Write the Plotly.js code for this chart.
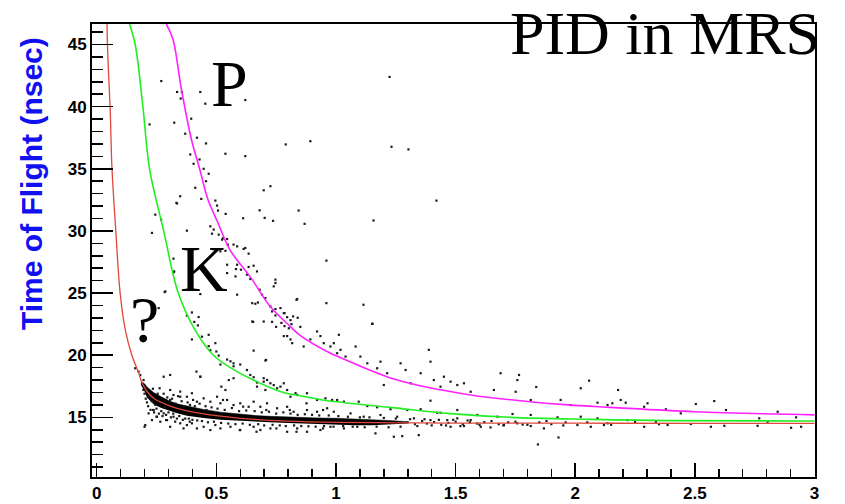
<!DOCTYPE html>
<html><head><meta charset="utf-8">
<script src="https://cdn.plot.ly/plotly-3.0.1.min.js"></script>
<style>html,body{margin:0;padding:0;background:#fff}#chart{width:845px;height:504px}</style>
</head><body><div id="chart"></div>
<script>
// ---- tick labels ----
const xTickVals = [0, 0.5, 1, 1.5, 2, 2.5, 3];
const xTickText = ['0', '0.5', '1', '1.5', '2', '2.5', '3'];
const yTickVals = [15, 20, 25, 30, 35, 40, 45];
const yTickText = ['15', '20', '25', '30', '35', '40', '45'];

// ---- reference curves (momentum, time of flight) ----
const pionX = [0.043, 0.045, 0.05, 0.056, 0.064, 0.08, 0.098, 0.12, 0.147, 0.175, 0.189, 0.21, 0.238, 0.307, 0.377, 0.517, 0.656, 0.796, 1.005, 1.25, 1.5, 2.0, 2.5, 3.0];
const pionT = [46.65, 45, 42.5, 40, 35, 30, 25, 22, 20, 18.6, 17.8, 17.1, 16.53, 15.91, 15.53, 15.1, 14.84, 14.7, 14.6, 14.56, 14.54, 14.53, 14.52, 14.52];
const kaonX = [0.137, 0.161, 0.193, 0.221, 0.28, 0.341, 0.412, 0.488, 0.559, 0.655, 0.78, 0.85, 0.977, 1.228, 1.48, 1.73, 2.065, 2.4, 3.0];
const kaonT = [46.65, 45, 40, 35, 30, 25, 22, 20, 19, 18, 17, 16.74, 16.31, 15.8, 15.3, 15.0, 14.84, 14.74, 14.7];
const protonX = [0.291, 0.319, 0.354, 0.396, 0.431, 0.465, 0.507, 0.556, 0.642, 0.726, 0.81, 0.85, 0.977, 1.02, 1.256, 1.563, 1.81, 1.97, 2.15, 2.5, 3.0];
const protonT = [46.65, 45.4, 41.4, 37.36, 34.94, 32.52, 30.64, 28.5, 26.3, 23.9, 22.3, 21.6, 20.16, 19.8, 18.0, 16.8, 16.26, 16.0, 15.8, 15.45, 15.2];

// ---- dense pion band (upper / lower edge) ----
const bandX  = [0.185, 0.2, 0.21, 0.238, 0.27, 0.307, 0.34, 0.377, 0.41, 0.447, 0.517, 0.587, 0.656, 0.726, 0.80, 0.865, 0.93, 1.005, 1.08, 1.15, 1.22, 1.30];
const bandHi = [17.9, 17.7, 17.45, 17.0, 16.65, 16.3, 16.07, 15.9, 15.75, 15.64, 15.42, 15.28, 15.16, 15.08, 15.02, 14.98, 14.95, 14.92, 14.88, 14.82, 14.75, 14.65];
const bandLo = [17.6, 17.1, 16.6, 16.05, 15.75, 15.5, 15.3, 15.12, 15.02, 14.94, 14.8, 14.72, 14.66, 14.6, 14.54, 14.49, 14.46, 14.42, 14.36, 14.36, 14.42, 14.5];

// ---- individual events [p, tof] ----
const protonDots = [[0.270,42.06],[0.336,41.18],[0.356,41.18],[0.351,40.65],[0.433,41.18],[0.454,40.24],[0.621,40.53],[0.324,38.71],[0.395,39.03],[0.370,37.82],[0.419,37.50],[0.457,37.04],[0.391,36.15],[0.538,36.21],[0.621,36.02],[0.405,35.40],[0.430,35.75],[0.447,35.00],[0.468,34.60],[0.457,34.00],[0.412,33.47],[0.437,32.58],[0.496,32.44],[0.349,32.79],[0.333,32.26],[0.698,33.27],[0.726,33.60],[0.681,31.66],[0.702,31.05],[0.737,30.81],[0.844,31.64],[0.503,32.04],[0.507,31.64],[0.539,31.37],[0.612,31.02],[0.377,30.02],[0.475,30.37],[0.489,30.11],[0.510,29.70],[0.524,29.30],[0.545,29.35],[0.587,28.76],[0.621,28.63],[0.869,30.57],[0.482,29.78],[0.528,29.41],[0.548,28.9],[0.572,28.9],[0.614,28.55],[0.635,28.17],[0.517,28.36],[0.538,28.4],[0.960,27.61],[0.545,27.28],[0.587,27.28],[0.582,26.93],[0.603,26.88],[0.635,27.10],[0.656,27.20],[0.670,26.74],[0.545,26.61],[0.58,26.34],[0.628,26.48],[0.642,26.13],[0.747,26.08],[0.740,25.54],[0.433,24.92],[0.587,24.87],[0.681,25.27],[0.691,24.87],[0.705,24.60],[0.838,24.52],[0.96,24.19],[0.663,24.14],[0.674,24.24],[0.726,23.92],[0.747,23.71],[0.768,23.79],[0.733,23.52],[0.747,23.2],[0.785,23.38],[0.796,23.06],[0.821,23.12],[0.840,23.01],[0.772,22.60],[0.733,22.68],[0.654,22.68],[0.750,22.28],[0.785,22.34],[0.814,22.50],[0.851,22.28],[0.747,25.81],[0.835,24.46],[0.796,21.54],[0.81,21.27],[0.782,23.39],[0.803,22.17],[0.893,37.22],[0.790,36.96],[0.65,24.19],[0.698,22.71],[0.81,22.82],[0.782,21.54],[0.817,20.97],[0.865,20.70],[0.893,21.27],[0.935,21.54],[0.921,21.91],[0.949,20.97],[0.977,20.7],[1.005,20.16],[1.012,21.64],[0.991,20.97],[1.019,20.43],[1.04,19.89],[1.082,20.7],[1.102,19.89],[1.131,19.35],[1.151,22.52],[1.172,18.95],[1.186,19.48],[1.214,18.55],[1.2,17.6],[1.27,19.35],[1.291,18.81],[1.312,17.74],[1.354,18.55],[1.388,20.43],[1.395,19.48],[1.409,18.0],[1.437,17.47],[1.451,18.27],[1.479,17.87],[1.507,17.6],[1.535,17.74],[1.563,17.06],[1.66,17.2],[1.688,18.55],[1.765,18.41],[1.751,17.06],[1.758,18.0],[1.814,16.4],[1.837,17.44],[1.939,16.4],[1.981,15.99],[2.023,17.34],[2.058,17.95],[2.093,16.18],[2.135,15.99],[2.179,17.2],[2.155,16.13],[2.19,16.4],[2.211,16.18],[2.288,15.85],[2.302,16.13],[2.379,15.65],[2.504,16.07],[2.581,16.31],[2.63,15.59],[2.846,15.45],[2.923,15.0],[2.441,15.32]];
const strayDots = [[1.224,42.39],[1.232,36.77],[1.303,36.56],[1.42,32.44],[1.157,30.84],[1.115,24.06],[1.153,22.53],[0.221,38.57],[0.245,31.31],[0.269,30.91],[0.231,29.84],[0.336,32.21],[0.321,27.77],[0.324,26.74],[0.287,25.13],[0.259,23.79],[0.398,23.44],[0.426,23.07],[0.377,23.19],[0.408,22.68],[0.284,25.08],[0.321,26.67]];
const kaonDots = [[0.398,21.27],[0.423,22.40],[0.44,21.49],[0.468,20.73],[0.475,20.4],[0.51,19.97],[0.517,19.25],[0.545,19.65],[0.559,19.51],[0.572,19.11],[0.60,19.25],[0.65,22.71],[0.656,18.23],[0.67,17.80],[0.698,17.87],[0.712,18.01],[0.74,17.60],[0.708,19.62],[0.433,18.27],[0.572,18.15],[0.768,17.47],[0.796,17.2],[0.831,16.94],[0.468,21.64],[0.496,20.97],[0.50,20.3],[0.572,19.35],[0.628,18.81],[0.642,18.41],[0.67,17.47],[0.698,18.15],[0.726,17.74],[0.754,17.34],[0.81,16.66],[0.838,16.8],[0.879,16.94],[0.921,16.4],[0.956,16.53],[0.984,16.4],[0.705,19.57],[0.656,20.37],[0.782,17.74],[0.538,17.2],[0.705,17.2],[1.005,16.4],[1.033,16.26],[1.095,16.26],[1.131,15.91],[1.172,15.81],[1.228,15.65],[1.298,15.59],[1.354,15.65],[1.395,16.34],[1.423,15.37],[1.437,15.37],[1.507,15.59],[1.591,15.19],[1.675,15.05],[1.738,15.27],[1.814,15.19],[1.926,15.0],[2.023,15.05],[2.093,14.92],[2.769,14.92],[2.218,14.78]];
const pionDots = [[0.203,14.38],[0.231,14.78],[0.217,15.32],[0.238,15.59],[0.252,15.05],[0.266,14.65],[0.28,15.32],[0.294,14.78],[0.307,14.24],[0.321,15.05],[0.328,14.65],[0.349,14.52],[0.363,14.11],[0.377,14.38],[0.398,14.52],[0.419,14.11],[0.447,14.24],[0.475,13.98],[0.496,14.38],[0.517,14.11],[0.559,14.24],[0.600,13.98],[0.656,14.24],[0.684,13.98],[0.726,14.11],[0.796,13.84],[0.838,14.11],[0.879,13.84],[0.935,13.98],[0.977,14.24],[0.307,17.2],[0.321,16.8],[0.349,17.07],[0.377,16.66],[0.398,16.94],[0.419,16.26],[0.447,16.53],[0.475,16.26],[0.503,16.66],[0.517,16.13],[0.545,16.4],[0.572,15.99],[0.600,16.13],[0.635,15.85],[0.656,16.26],[0.684,15.85],[0.712,16.13],[0.754,15.73],[0.796,15.85],[0.823,15.45],[0.879,15.59],[0.921,15.45],[0.963,15.73],[0.991,15.45],[0.28,18.27],[0.433,18.27],[0.552,18.0],[0.307,18.41],[0.161,18.95],[0.175,18.68],[0.182,18.41],[0.196,18.0],[0.2,14.24],[0.236,15.59],[0.25,15.05],[0.307,16.4],[0.349,16.66],[0.29,14.78],[0.389,14.65],[0.403,16.4],[0.459,15.59],[0.528,16.4],[0.612,15.86],[0.709,15.59],[0.807,15.59],[0.877,16.13],[0.946,15.59],[0.751,14.11],[0.668,13.84],[0.598,13.98],[0.835,13.84],[0.946,14.11],[0.417,18.68],[0.263,17.34],[0.521,17.47],[1.033,14.11],[1.089,14.24],[1.165,13.71],[1.242,13.44],[1.277,13.49],[1.346,13.57],[1.479,14.24],[1.535,14.3],[1.605,14.24],[1.646,14.19],[1.702,14.38],[1.758,14.52],[1.814,14.3],[1.844,12.82],[1.869,14.11],[1.93,13.38],[2.009,14.38],[2.065,14.24],[2.12,14.38],[1.061,15.32],[1.116,15.05],[1.186,15.19],[1.256,15.05],[1.326,14.92],[1.395,14.78],[1.465,14.78],[1.507,14.92],[1.563,14.78],[2.135,14.52],[2.288,14.24],[2.337,14.65],[2.386,14.38],[2.483,14.46],[2.567,14.24],[2.623,14.32],[2.762,14.32],[2.804,14.65],[2.902,14.16],[2.944,14.24],[1.3,14.6],[1.33,14.45],[1.36,14.7],[1.38,14.5],[1.41,14.62],[1.44,14.4],[1.47,14.55],[1.5,14.65],[1.53,14.45],[1.56,14.6],[1.59,14.5],[1.62,14.62],[1.68,14.45],[1.72,14.6],[1.78,14.42],[1.85,14.6],[1.9,14.45],[1.96,14.6]];
const bandEdgeDots = [[0.195,17.2],[0.2,16.9],[0.205,16.5],[0.21,16.2],[0.215,15.9],[0.22,16.6],[0.225,15.6],[0.23,16.3],[0.235,17.3],[0.24,15.4],[0.245,16.0],[0.25,15.7],[0.255,16.9],[0.26,15.3],[0.265,16.2],[0.27,15.5],[0.275,15.1],[0.28,16.9],[0.285,15.8],[0.29,15.2],[0.295,16.6],[0.3,15.4],[0.31,15.0],[0.315,16.5],[0.32,15.3],[0.33,16.1],[0.335,14.9],[0.34,16.7],[0.345,15.1],[0.355,16.3],[0.36,14.8],[0.365,15.9],[0.37,14.9],[0.38,16.2],[0.385,14.9],[0.39,16.0],[0.4,14.8],[0.41,15.9],[0.42,14.75],[0.43,16.1],[0.44,14.7],[0.455,15.9],[0.465,14.6],[0.48,15.8],[0.49,14.65],[0.505,15.7],[0.52,14.55],[0.535,15.6],[0.55,14.5],[0.565,15.75],[0.58,14.45],[0.595,15.5],[0.61,14.5],[0.625,15.55],[0.64,14.4],[0.66,15.5],[0.675,14.45],[0.69,15.4],[0.7,14.35],[0.72,15.45],[0.735,14.4],[0.75,15.3],[0.765,14.35],[0.78,15.4],[0.79,14.3],[0.81,15.3],[0.825,14.35],[0.84,15.2],[0.855,14.3],[0.87,15.25],[0.885,14.28],[0.9,15.2],[0.915,14.25],[0.93,15.15],[0.95,14.3],[0.97,15.15],[0.99,14.25],[1.01,15.1],[1.03,14.3],[1.05,15.05],[1.07,14.25],[1.1,15.0],[1.12,14.2],[1.14,15.0],[1.17,14.25],[1.2,14.95],[1.22,14.2],[1.25,14.9],[1.27,14.25],[1.31,14.85],[1.34,14.3],[1.37,14.85],[1.4,14.35],[1.43,14.8],[1.46,14.35],[1.49,14.8],[1.52,14.3],[1.55,14.75],[1.6,14.4],[1.65,14.7],[1.7,14.35],[1.75,14.65],[1.8,14.4],[1.88,14.7],[1.95,14.35],[2.05,14.6],[2.15,14.4],[2.25,14.62],[2.35,14.45]];

// ---- text labels ----
const titleText = 'PID in MRS';
const yTitleText = 'Time of Flight (nsec)';
const particleLabels = ['P', 'K', '?'];
const labelP = [0.556, 41.84];
const labelK = [0.449, 26.97];
const labelQ = [0.2007, 22.85];

const allDots = [].concat(protonDots, strayDots, kaonDots, pionDots, bandEdgeDots);

const traces = [
  {x: bandX, y: bandLo, mode: 'lines', line: {width: 0, color: 'black'}, hoverinfo: 'skip'},
  {x: bandX, y: bandHi, mode: 'lines', line: {width: 0.5, color: 'black'}, fill: 'tonexty', fillcolor: 'black', hoverinfo: 'skip'},
  {x: allDots.map(d => d[0]), y: allDots.map(d => d[1]), mode: 'markers', type: 'scatter',
   marker: {symbol: 'square', size: 2.2, color: '#1a1a1a', line: {width: 0}}},
  {x: kaonX, y: kaonT, mode: 'lines', line: {color: '#22ee22', width: 1.6, shape: 'spline'}},
  {x: protonX, y: protonT, mode: 'lines', line: {color: '#ff22ff', width: 1.6, shape: 'spline'}},
  {x: pionX, y: pionT, mode: 'lines', line: {color: '#e0483c', width: 1.3, shape: 'spline'}}
];

const tickFont = {family: 'Liberation Sans, Arial, sans-serif', size: 17, color: 'black', weight: 'bold'};
const serif = 'Liberation Serif, Times New Roman, serif';

const layout = {
  width: 845, height: 504,
  margin: {l: 92, r: 30, t: 24, b: 27},
  paper_bgcolor: 'white', plot_bgcolor: 'white',
  showlegend: false,
  title: {text: titleText, font: {family: serif, size: 62, color: 'black'},
          x: 665/845, xanchor: 'center', y: 1 - 32.5/504, yanchor: 'middle'},
  xaxis: {range: [-0.0196, 3.002], tickmode: 'array', tickvals: xTickVals, ticktext: xTickText,
          ticks: 'inside', ticklen: 14, tickwidth: 1.5, tickcolor: 'black',
          showline: true, linecolor: 'black', linewidth: 2, mirror: true,
          showgrid: false, zeroline: false, tickfont: tickFont,
          minor: {tickmode: 'linear', tick0: 0, dtick: 0.1, ticks: 'inside', ticklen: 8, tickwidth: 1.5, tickcolor: 'black', showgrid: false}},
  yaxis: {range: [10.2, 46.65], tickmode: 'array', tickvals: yTickVals, ticktext: yTickText,
          ticks: 'inside', ticklen: 21, tickwidth: 1.5, tickcolor: 'black',
          showline: true, linecolor: 'black', linewidth: 2, mirror: true,
          showgrid: false, zeroline: false, tickfont: tickFont,
          minor: {tickmode: 'linear', tick0: 0, dtick: 1, ticks: 'inside', ticklen: 11, tickwidth: 1.5, tickcolor: 'black', showgrid: false}},
  annotations: [
    {text: yTitleText, textangle: -90, xref: 'paper', yref: 'paper', x: (31-92)/723, y: 1 - (184-24)/453,
     xanchor: 'center', yanchor: 'middle', showarrow: false,
     font: {family: 'Liberation Sans, Arial, sans-serif', size: 30, color: '#1010f0', weight: 'bold'}},
    {text: particleLabels[0], x: labelP[0], y: labelP[1], xref: 'x', yref: 'y', showarrow: false, xanchor: 'center', yanchor: 'middle', font: {family: serif, size: 66, color: 'black'}},
    {text: particleLabels[1], x: labelK[0], y: labelK[1], xref: 'x', yref: 'y', showarrow: false, xanchor: 'center', yanchor: 'middle', font: {family: serif, size: 66, color: 'black'}},
    {text: particleLabels[2], x: labelQ[0], y: labelQ[1], xref: 'x', yref: 'y', showarrow: false, xanchor: 'center', yanchor: 'middle', font: {family: serif, size: 66, color: 'black'}}
  ]
};

Plotly.newPlot('chart', traces, layout, {displayModeBar: false, staticPlot: true});
</script></body></html>
